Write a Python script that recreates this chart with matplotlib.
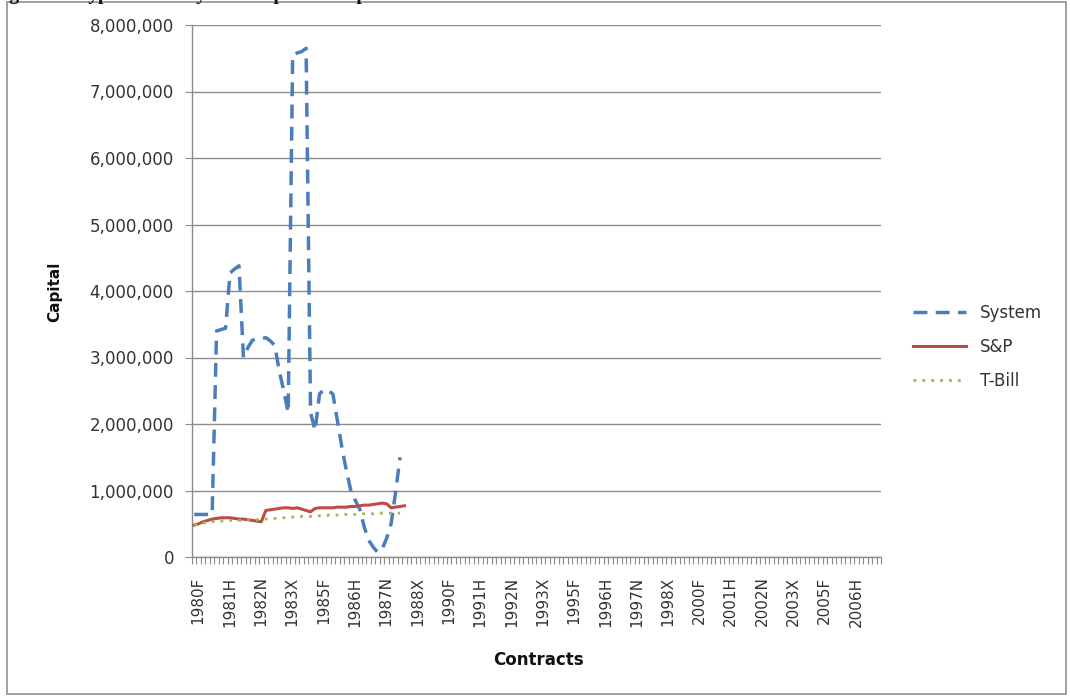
import matplotlib
matplotlib.use("Agg")
import matplotlib.pyplot as plt
import matplotlib.transforms as mtransforms
from matplotlib.patches import Rectangle
from matplotlib.ticker import FuncFormatter, FixedLocator, MultipleLocator

# category axis: 154 contracts, every 7th one labelled
n_contracts = 154
label_step = 7
tick_labels = ["1980F", "1981H", "1982N", "1983X", "1985F", "1986H", "1987N",
               "1988X", "1990F", "1991H", "1992N", "1993X", "1995F", "1996H",
               "1997N", "1998X", "2000F", "2001H", "2002N", "2003X", "2005F",
               "2006H"]

# capital in millions
system = [0.64, 0.64, 0.64, 0.64, 0.64, 3.40, 3.42, 3.44, 4.27, 4.33,
          4.38, 3.00, 3.15, 3.26, 3.28, 3.28, 3.30, 3.25, 3.18, 2.80,
          2.50, 2.17, 7.55, 7.58, 7.60, 7.65, 2.17, 1.90, 2.45, 2.52,
          2.50, 2.45, 2.05, 1.65, 1.30, 1.00, 0.85, 0.72, 0.45, 0.25,
          0.15, 0.07, 0.12, 0.28, 0.50, 0.97, 1.50]
sp500 = [0.48, 0.50, 0.53, 0.55, 0.57, 0.58, 0.59, 0.59, 0.59, 0.58,
         0.57, 0.57, 0.56, 0.55, 0.54, 0.53, 0.70, 0.71, 0.72, 0.73,
         0.74, 0.74, 0.73, 0.74, 0.72, 0.70, 0.68, 0.73, 0.74, 0.74,
         0.74, 0.74, 0.75, 0.75, 0.75, 0.76, 0.76, 0.77, 0.78, 0.78,
         0.79, 0.80, 0.81, 0.80, 0.74, 0.75, 0.76, 0.77]
tbill = [0.48, 0.49, 0.51, 0.52, 0.53, 0.54, 0.54, 0.55, 0.55, 0.55,
         0.55, 0.55, 0.56, 0.56, 0.56, 0.57, 0.57, 0.58, 0.58, 0.59,
         0.59, 0.60, 0.60, 0.60, 0.61, 0.61, 0.61, 0.62, 0.62, 0.62,
         0.63, 0.63, 0.63, 0.64, 0.64, 0.64, 0.64, 0.65, 0.65, 0.65,
         0.65, 0.66, 0.66, 0.66, 0.66, 0.66, 0.66]

GRID = "#8c8c8c"
TXT = "#333333"

fig = plt.figure(figsize=(10.70, 6.97), dpi=100)
W, H = 1070.0, 697.0
ax = fig.add_axes([192 / W, 1 - 557 / H, (881 - 192) / W, (557 - 25) / H])

ax.plot(range(len(system)), [v * 1e6 for v in system], color="#4a7ebb",
        lw=2.5, dashes=(4, 2.4), dash_capstyle="butt", label="System", zorder=3)
ax.plot(range(len(sp500)), [v * 1e6 for v in sp500], color="#be4b48",
        lw=2.2, label="S&P", zorder=4)
ax.plot(range(len(tbill)), [v * 1e6 for v in tbill], color="#98b954",
        lw=2.0, dashes=(1, 2.2), label="T-Bill", zorder=5)

ax.set_xlim(-0.5, n_contracts - 0.5)
ax.set_ylim(0, 8e6)
ax.yaxis.set_major_locator(MultipleLocator(1e6))
ax.yaxis.set_major_formatter(FuncFormatter(lambda v, p: f"{int(v):,}"))
ax.grid(axis="y", color=GRID, lw=1.0)
ax.set_axisbelow(True)

ax.set_xticks([i * label_step for i in range(len(tick_labels))])
ax.set_xticklabels(tick_labels, rotation=90, fontsize=11, color=TXT)
ax.xaxis.set_minor_locator(FixedLocator([j - 0.5 for j in range(n_contracts + 1)]))
ax.tick_params(axis="x", which="major", length=0, pad=14)
ax.tick_params(axis="x", which="minor", length=5, color=GRID, width=0.8)
ax.tick_params(axis="y", length=5, color=GRID, width=0.8, labelsize=12,
               labelcolor=TXT, pad=8)
shift = mtransforms.ScaledTranslation(4 / 100, 0, fig.dpi_scale_trans)
for lab in ax.get_xticklabels():
    lab.set_transform(lab.get_transform() + shift)

for s in ("top", "right"):
    ax.spines[s].set_visible(False)
for s in ("left", "bottom"):
    ax.spines[s].set_color(GRID)
    ax.spines[s].set_linewidth(1.0)

fig.text(55 / W, 1 - 292 / H, "Capital", rotation=90, ha="center", va="center",
         fontsize=11, fontweight="bold", color="#111111")
fig.text(538 / W, 1 - 660 / H, "Contracts", ha="center", va="center",
         fontsize=12, fontweight="bold", color="#111111")

leg = ax.legend(loc="upper left", bbox_to_anchor=(913 / W, 1 - 304 / H),
                bbox_transform=fig.transFigure, frameon=False, fontsize=12,
                handlelength=3.2, handletextpad=0.8, labelspacing=0.95,
                borderpad=0, borderaxespad=0)
for t in leg.get_texts():
    t.set_color(TXT)

# outer chart frame and the clipped caption above it
fig.patches.append(Rectangle((7 / W, 3 / H), 1059 / W, 692 / H, transform=fig.transFigure,
                             fill=False, edgecolor="#9a9a9a", lw=1.3))
fig.text(-8 / W, 1.0, "Figure 3: Hypothetical System Capital Comparison",
         ha="left", va="baseline", fontsize=14, fontweight="bold",
         family="Liberation Serif", color="#111111")

fig.savefig("out.png", dpi=100)
